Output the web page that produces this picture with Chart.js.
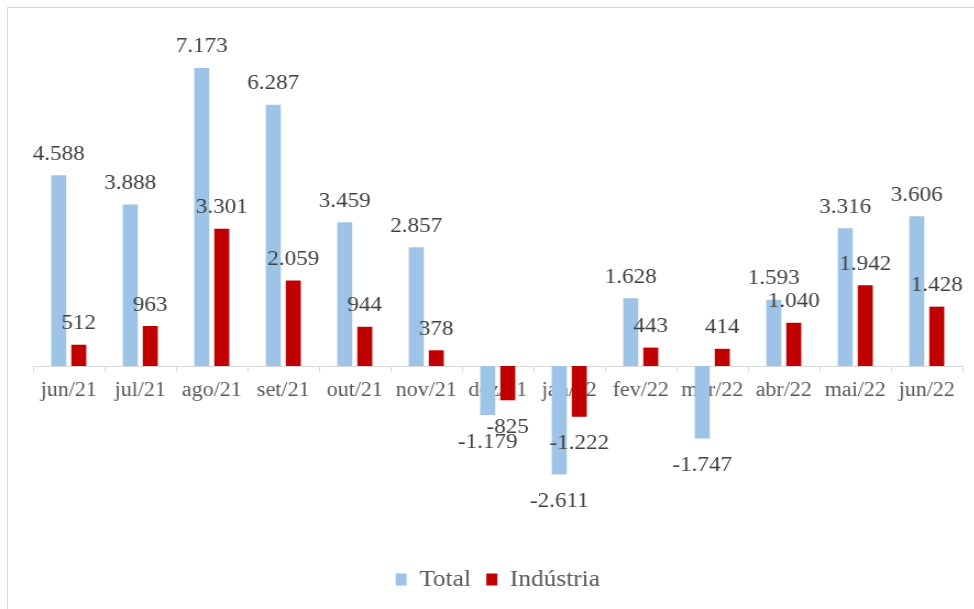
<!DOCTYPE html>
<html>
<head>
<meta charset="utf-8">
<script src="https://cdn.jsdelivr.net/npm/chart.js@4.4.0/dist/chart.umd.min.js"></script>
<style>
    body { margin: 0; background: #fff; }
    #wrap { position: relative; width: 974px; height: 609px; overflow: hidden; }
    #frame { position: absolute; left: 7px; top: 7px; width: 1000px; height: 700px; border-left: 1px solid #d9d9d9; border-top: 1px solid #d9d9d9; }
    /* the original picture is a bit stretched sideways */
    #myChart { position: absolute; left: 0; top: 0; transform: scaleX(1.1); transform-origin: 0 0; }
</style>
</head>
<body>
<div id="wrap">
    <div id="frame"></div>
    <canvas id="myChart" width="885" height="609"></canvas>
</div>
<script>
const months = ['jun/21', 'jul/21', 'ago/21', 'set/21', 'out/21', 'nov/21', 'dez/21', 'jan/22', 'fev/22', 'mar/22', 'abr/22', 'mai/22', 'jun/22'];
const total = [4588, 3888, 7173, 6287, 3459, 2857, -1179, -2611, 1628, -1747, 1593, 3316, 3606];
const industria = [512, 963, 3301, 2059, 944, 378, -825, -1222, 443, 414, 1040, 1942, 1428];

// where the zero line sits and how tall one unit is
const zeroY = 366;
const pxPerUnit = 0.04155;
const serif = 'Liberation Serif';

function fmt(v) {
    const s = Math.abs(v).toString().replace(/\B(?=(\d{3})+(?!\d))/g, '.');
    return (v < 0 ? '-' : '') + s;
}

// value labels over / under each bar
const valueLabels = {
    id: 'valueLabels',
    afterDatasetsDraw(chart) {
        const ctx = chart.ctx;
        ctx.save();
        ctx.font = '21px "' + serif + '"';
        ctx.fillStyle = '#404040';
        ctx.textAlign = 'center';
        ctx.textBaseline = 'middle';
        chart.data.datasets.forEach((ds, i) => {
            chart.getDatasetMeta(i).data.forEach((bar, j) => {
                const v = ds.data[j];
                const y = v >= 0 ? bar.y - 21 : bar.y + 27;
                ctx.fillText(fmt(v), bar.x, y);
            });
        });
        ctx.restore();
    }
};

const ctx = document.getElementById('myChart').getContext('2d');
const chart = new Chart(ctx, {
    type: 'bar',
    data: {
        labels: months,
        datasets: [{
            label: 'Total',
            data: total,
            backgroundColor: '#9dc3e6',
            categoryPercentage: 0.56,
            barPercentage: 0.75
        }, {
            label: 'Indústria',
            data: industria,
            backgroundColor: '#c00000',
            categoryPercentage: 0.56,
            barPercentage: 0.75
        }]
    },
    options: {
        responsive: false,
        animation: false,
        layout: { padding: { left: 30, right: 10, top: 30, bottom: 8 } },
        scales: {
            x: {
                position: { y: 0 },
                grid: { drawOnChartArea: false, drawTicks: true, tickLength: 5, color: '#d9d9d9', offset: true },
                border: { color: '#d9d9d9', width: 1 },
                ticks: { color: '#595959', font: { family: serif, size: 20 }, padding: 8, maxRotation: 0, autoSkip: false }
            },
            y: { display: false }
        },
        plugins: {
            legend: {
                position: 'bottom',
                labels: { color: '#595959', font: { family: serif, size: 23 }, boxWidth: 10, boxHeight: 12, padding: 14 }
            },
            tooltip: { enabled: false }
        }
    },
    plugins: [valueLabels]
});

// fit y range so zero lands on the axis line
const area = chart.chartArea;
chart.options.scales.y.max = (zeroY - area.top) / pxPerUnit;
chart.options.scales.y.min = -(area.bottom - zeroY) / pxPerUnit;
chart.update('none');
</script>
</body>
</html>
